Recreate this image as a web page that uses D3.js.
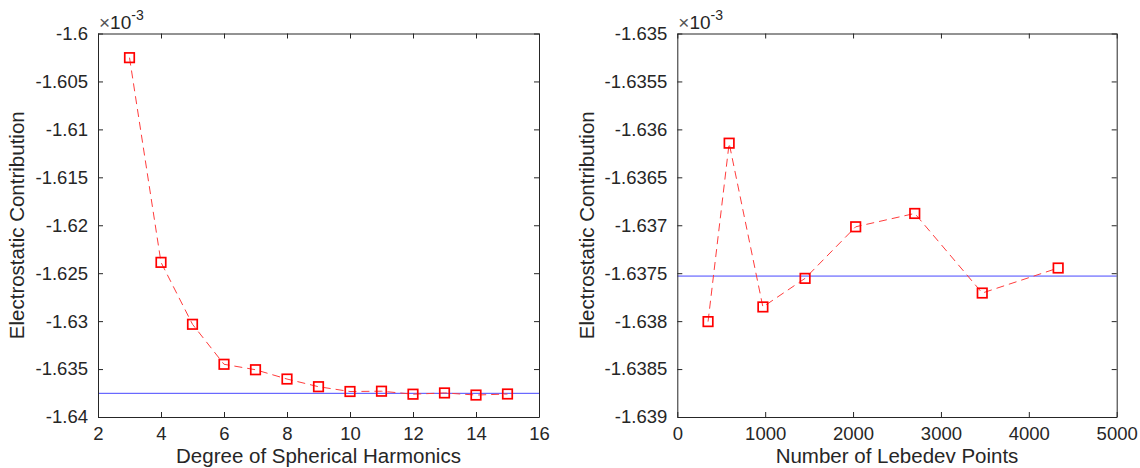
<!DOCTYPE html>
<html>
<head>
<meta charset="utf-8">
<script src="https://cdn.jsdelivr.net/npm/d3@7"></script>
<style>
  html, body { margin: 0; padding: 0; background: #fff; }
  svg { display: block; font-family: "Liberation Sans", Arial, Helvetica, sans-serif; }
</style>
</head>
<body>
<svg id="chart" width="1140" height="468"></svg>
<script>
// ---- Data (values in units of 1e-3) ----
const degrees = [3, 4, 5, 6, 7, 8, 9, 10, 11, 12, 13, 14, 15];
const degreeValues = [-1.60252, -1.62387, -1.63033, -1.63450, -1.63507, -1.63604, -1.63684,
                      -1.63734, -1.63731, -1.63762, -1.63749, -1.63771, -1.63760];
const lebedevPoints = [350, 590, 974, 1454, 2030, 2702, 3470, 4334];
const lebedevValues = [-1.638005, -1.636144, -1.637852, -1.637554, -1.637016, -1.636877, -1.637707, -1.637446];
const referenceValue = -1.63753;

const leftXTicks = [2, 4, 6, 8, 10, 12, 14, 16];
const leftYTicks = [-1.64, -1.635, -1.63, -1.625, -1.62, -1.615, -1.61, -1.605, -1.6];
const leftYTickLabels = ["-1.64", "-1.635", "-1.63", "-1.625", "-1.62", "-1.615", "-1.61", "-1.605", "-1.6"];
const rightXTicks = [0, 1000, 2000, 3000, 4000, 5000];
const rightYTicks = [-1.639, -1.6385, -1.638, -1.6375, -1.637, -1.6365, -1.636, -1.6355, -1.635];
const rightYTickLabels = ["-1.639", "-1.6385", "-1.638", "-1.6375", "-1.637", "-1.6365", "-1.636", "-1.6355", "-1.635"];

const yLabel = "Electrostatic Contribution";
const leftXLabel = "Degree of Spherical Harmonics";
const rightXLabel = "Number of Lebedev Points";

const svg = d3.select("#chart");
const axisColor = "#262626";

function panel(cfg) {
  const x = d3.scaleLinear().domain(cfg.xDomain).range([cfg.x0, cfg.x1]);
  const y = d3.scaleLinear().domain(cfg.yDomain).range([cfg.y1, cfg.y0]);
  const g = svg.append("g");

  // reference line (blue)
  g.append("line")
    .attr("x1", x(cfg.xDomain[0])).attr("x2", x(cfg.xDomain[1]))
    .attr("y1", y(referenceValue)).attr("y2", y(referenceValue))
    .attr("stroke", "#4848ff").attr("stroke-width", 1);

  // dashed data line
  const line = d3.line().x((d, i) => x(cfg.xs[i])).y(d => y(d));
  g.append("path")
    .datum(cfg.ys)
    .attr("d", line)
    .attr("fill", "none")
    .attr("stroke", "#ff3c3c")
    .attr("stroke-width", 1)
    .attr("stroke-dasharray", "8,5");

  // markers
  const s = 9.5;
  g.selectAll("rect.m").data(cfg.ys).enter().append("rect")
    .attr("class", "m")
    .attr("x", (d, i) => x(cfg.xs[i]) - s / 2)
    .attr("y", d => y(d) - s / 2)
    .attr("width", s).attr("height", s)
    .attr("fill", "none")
    .attr("stroke", "#ff0000")
    .attr("stroke-width", 1.7);

  // axes
  const tickLen = 5;
  const styleAxis = sel => {
    sel.selectAll("path.domain").attr("stroke", axisColor).attr("stroke-width", 1);
    sel.selectAll(".tick line").attr("stroke", axisColor);
    sel.selectAll(".tick text").attr("fill", axisColor).attr("font-size", "18.5px")
      .attr("font-family", "'Liberation Sans', Arial, sans-serif");
  };
  const labMap = new Map(cfg.yTicks.map((t, i) => [t, cfg.yTickLabels[i]]));

  g.append("g").attr("transform", `translate(0,${cfg.y1})`)
    .call(d3.axisBottom(x).tickValues(cfg.xTicks).tickSizeInner(-tickLen).tickSizeOuter(0).tickPadding(9.5).tickFormat(d3.format("d")))
    .call(styleAxis);
  g.append("g").attr("transform", `translate(${cfg.x0},0)`)
    .call(d3.axisLeft(y).tickValues(cfg.yTicks).tickSizeInner(-tickLen).tickSizeOuter(0).tickPadding(10).tickFormat(d => labMap.get(d)))
    .call(styleAxis);
  g.append("g").attr("transform", `translate(0,${cfg.y0})`)
    .call(d3.axisTop(x).tickValues(cfg.xTicks).tickSizeInner(-tickLen).tickSizeOuter(0).tickFormat(""))
    .call(styleAxis);
  g.append("g").attr("transform", `translate(${cfg.x1},0)`)
    .call(d3.axisRight(y).tickValues(cfg.yTicks).tickSizeInner(-tickLen).tickSizeOuter(0).tickFormat(""))
    .call(styleAxis);

  // exponent label
  const ex = g.append("text")
    .attr("x", cfg.x0 + 1).attr("y", 29)
    .attr("fill", axisColor).attr("font-size", "19px");
  ex.append("tspan").attr("fill", "#555").text("\u00d7");
  ex.append("tspan").text("10");
  ex.append("tspan").attr("font-size", "14px").attr("dy", -9).text("-3");

  // axis labels
  g.append("text")
    .attr("x", (cfg.x0 + cfg.x1) / 2).attr("y", 463)
    .attr("text-anchor", "middle").attr("fill", axisColor).attr("font-size", "20.5px")
    .text(cfg.xLabel);
  g.append("text")
    .attr("transform", `translate(${cfg.yLabelX},${(cfg.y0 + cfg.y1) / 2}) rotate(-90)`)
    .attr("text-anchor", "middle").attr("fill", axisColor).attr("font-size", "20.5px")
    .text(yLabel);
}

panel({
  x0: 98, x1: 539, y0: 33.5, y1: 417,
  xDomain: [2, 16], yDomain: [-1.64, -1.6],
  xs: degrees, ys: degreeValues,
  xTicks: leftXTicks, yTicks: leftYTicks, yTickLabels: leftYTickLabels,
  xLabel: leftXLabel, yLabelX: 24
});

panel({
  x0: 677.3, x1: 1116.7, y0: 33.5, y1: 417,
  xDomain: [0, 5000], yDomain: [-1.639, -1.635],
  xs: lebedevPoints, ys: lebedevValues,
  xTicks: rightXTicks, yTicks: rightYTicks, yTickLabels: rightYTickLabels,
  xLabel: rightXLabel, yLabelX: 594
});
</script>
</body>
</html>
